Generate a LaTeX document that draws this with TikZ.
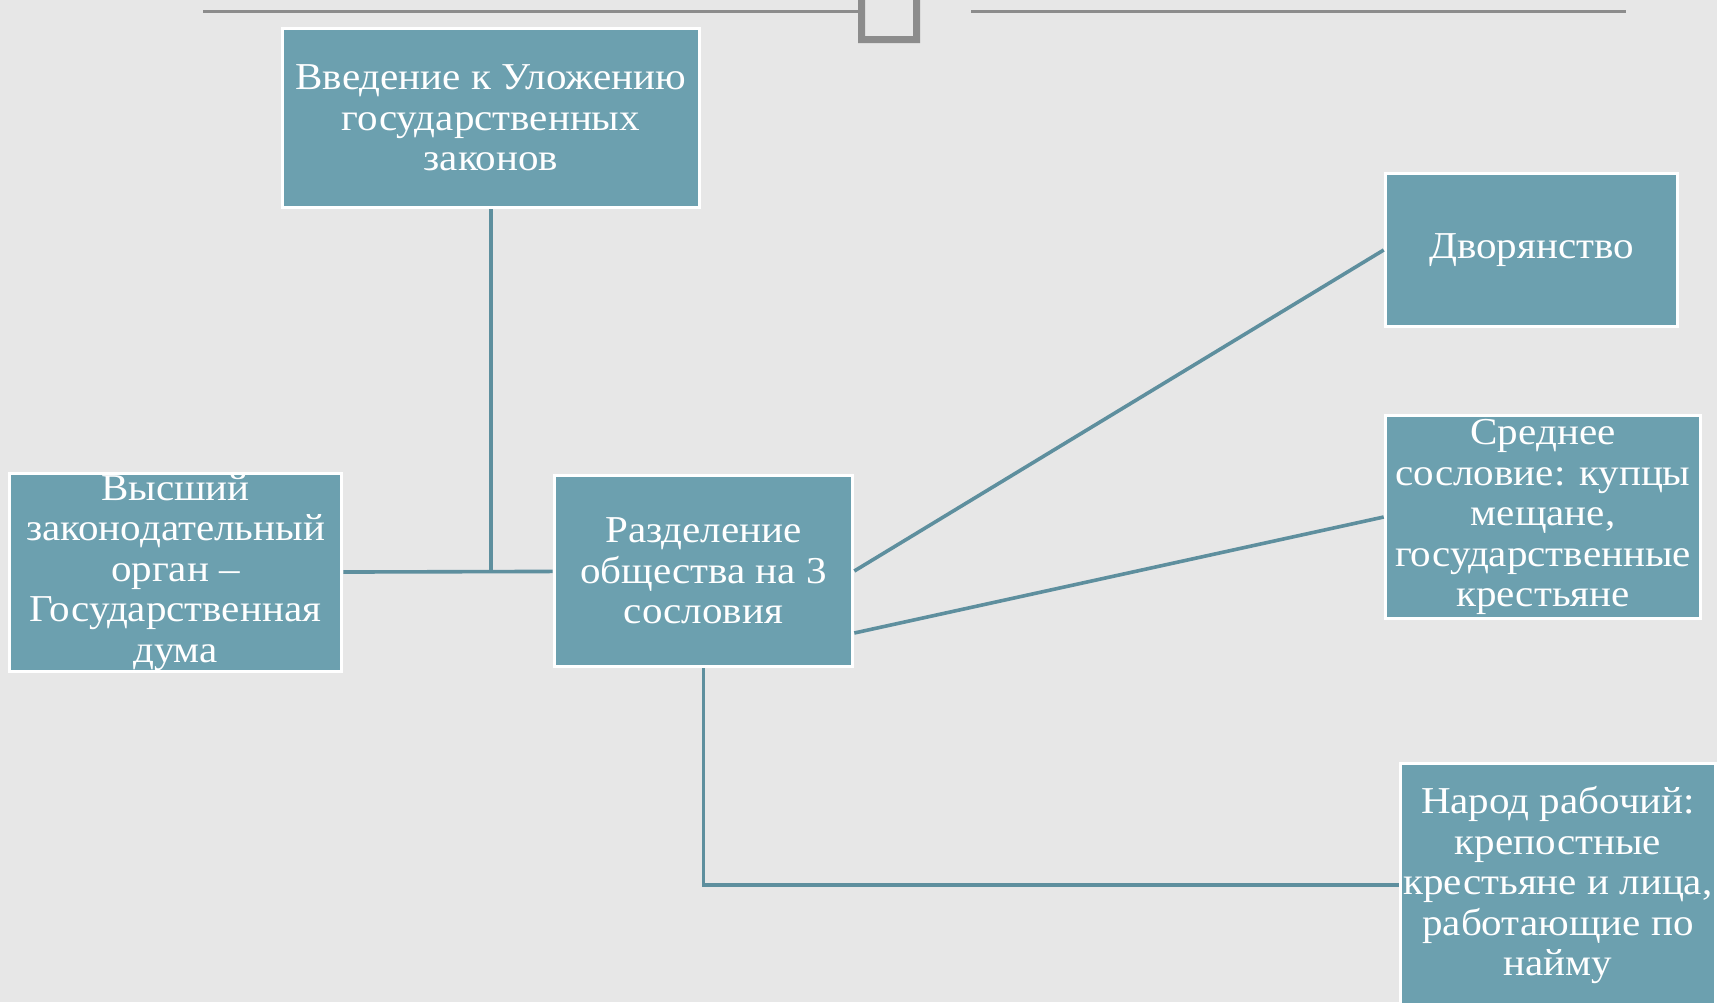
\documentclass[tikz,border=0pt]{standalone}
\usepackage{fontspec}
\setmainfont{Liberation Serif}[FakeStretch=1.08]
\definecolor{boxfill}{RGB}{108,160,175}
\definecolor{linkcol}{RGB}{94,143,158}
\definecolor{paper}{RGB}{231,231,231}
\definecolor{rulegray}{RGB}{140,140,140}
\begin{document}
\begin{tikzpicture}[x=0.5pt, y=-0.5pt,
    box/.style={rectangle, fill=boxfill, draw=white, line width=1.8pt, text=white, align=center, inner sep=0pt, font=\fontsize{19}{20.25}\selectfont},
    link/.style={draw=linkcol, line width=1.8pt}]
	\useasboundingbox (0,0) rectangle (1717,1002);
	\fill[paper] (0,0) rectangle (1717,1002);
	\clip (0,0) rectangle (1717,1002);
	% top rule
	\draw[rulegray, line width=1.5pt] (203,11.5) -- (860,11.5);
	\draw[rulegray, line width=1.5pt] (971,11) -- (1626,11);
	\fill[rulegray, even odd rule] (858,-5) rectangle (920,43) (865,-5) rectangle (913,36);

	\node[box, minimum width=208.5pt, minimum height=89.5pt] (vvedenie) at (491,118) {Введение к Уложению\\государственных\\законов};
	\node[box, minimum width=166pt, minimum height=99pt] (duma) at (175.5,572.5) {Высший\\законодательный\\орган --\\Государственная\\дума};
	\node[box, minimum width=149pt, minimum height=95.5pt] (razdelenie) at (703.5,571) {Разделение\\общества на 3\\сословия};
	\node[box, minimum width=146pt, minimum height=76.5pt] (dvoryanstvo) at (1531.5,250) {Дворянство};
	\node[box, minimum width=157.5pt, minimum height=101.5pt] (srednee) at (1543,517) {Среднее\\сословие: купцы\\мещане,\\государственные\\крестьяне};
	\node[box, minimum width=157.5pt, minimum height=121.5pt] (narod) at (1558,885) {Народ рабочий:\\крепостные\\крестьяне и лица,\\работающие по\\найму};

	\draw[link] (duma) -- (razdelenie);
	\draw[link] (vvedenie) -- (vvedenie |- razdelenie.west);
	\draw[link] (razdelenie.east) -- (dvoryanstvo.west);
	\draw[link] ([yshift=-31pt]razdelenie.east) -- (srednee.west);
	\draw[link] (razdelenie) -- (razdelenie |- narod.west) -- (narod);
\end{tikzpicture}
\end{document}
